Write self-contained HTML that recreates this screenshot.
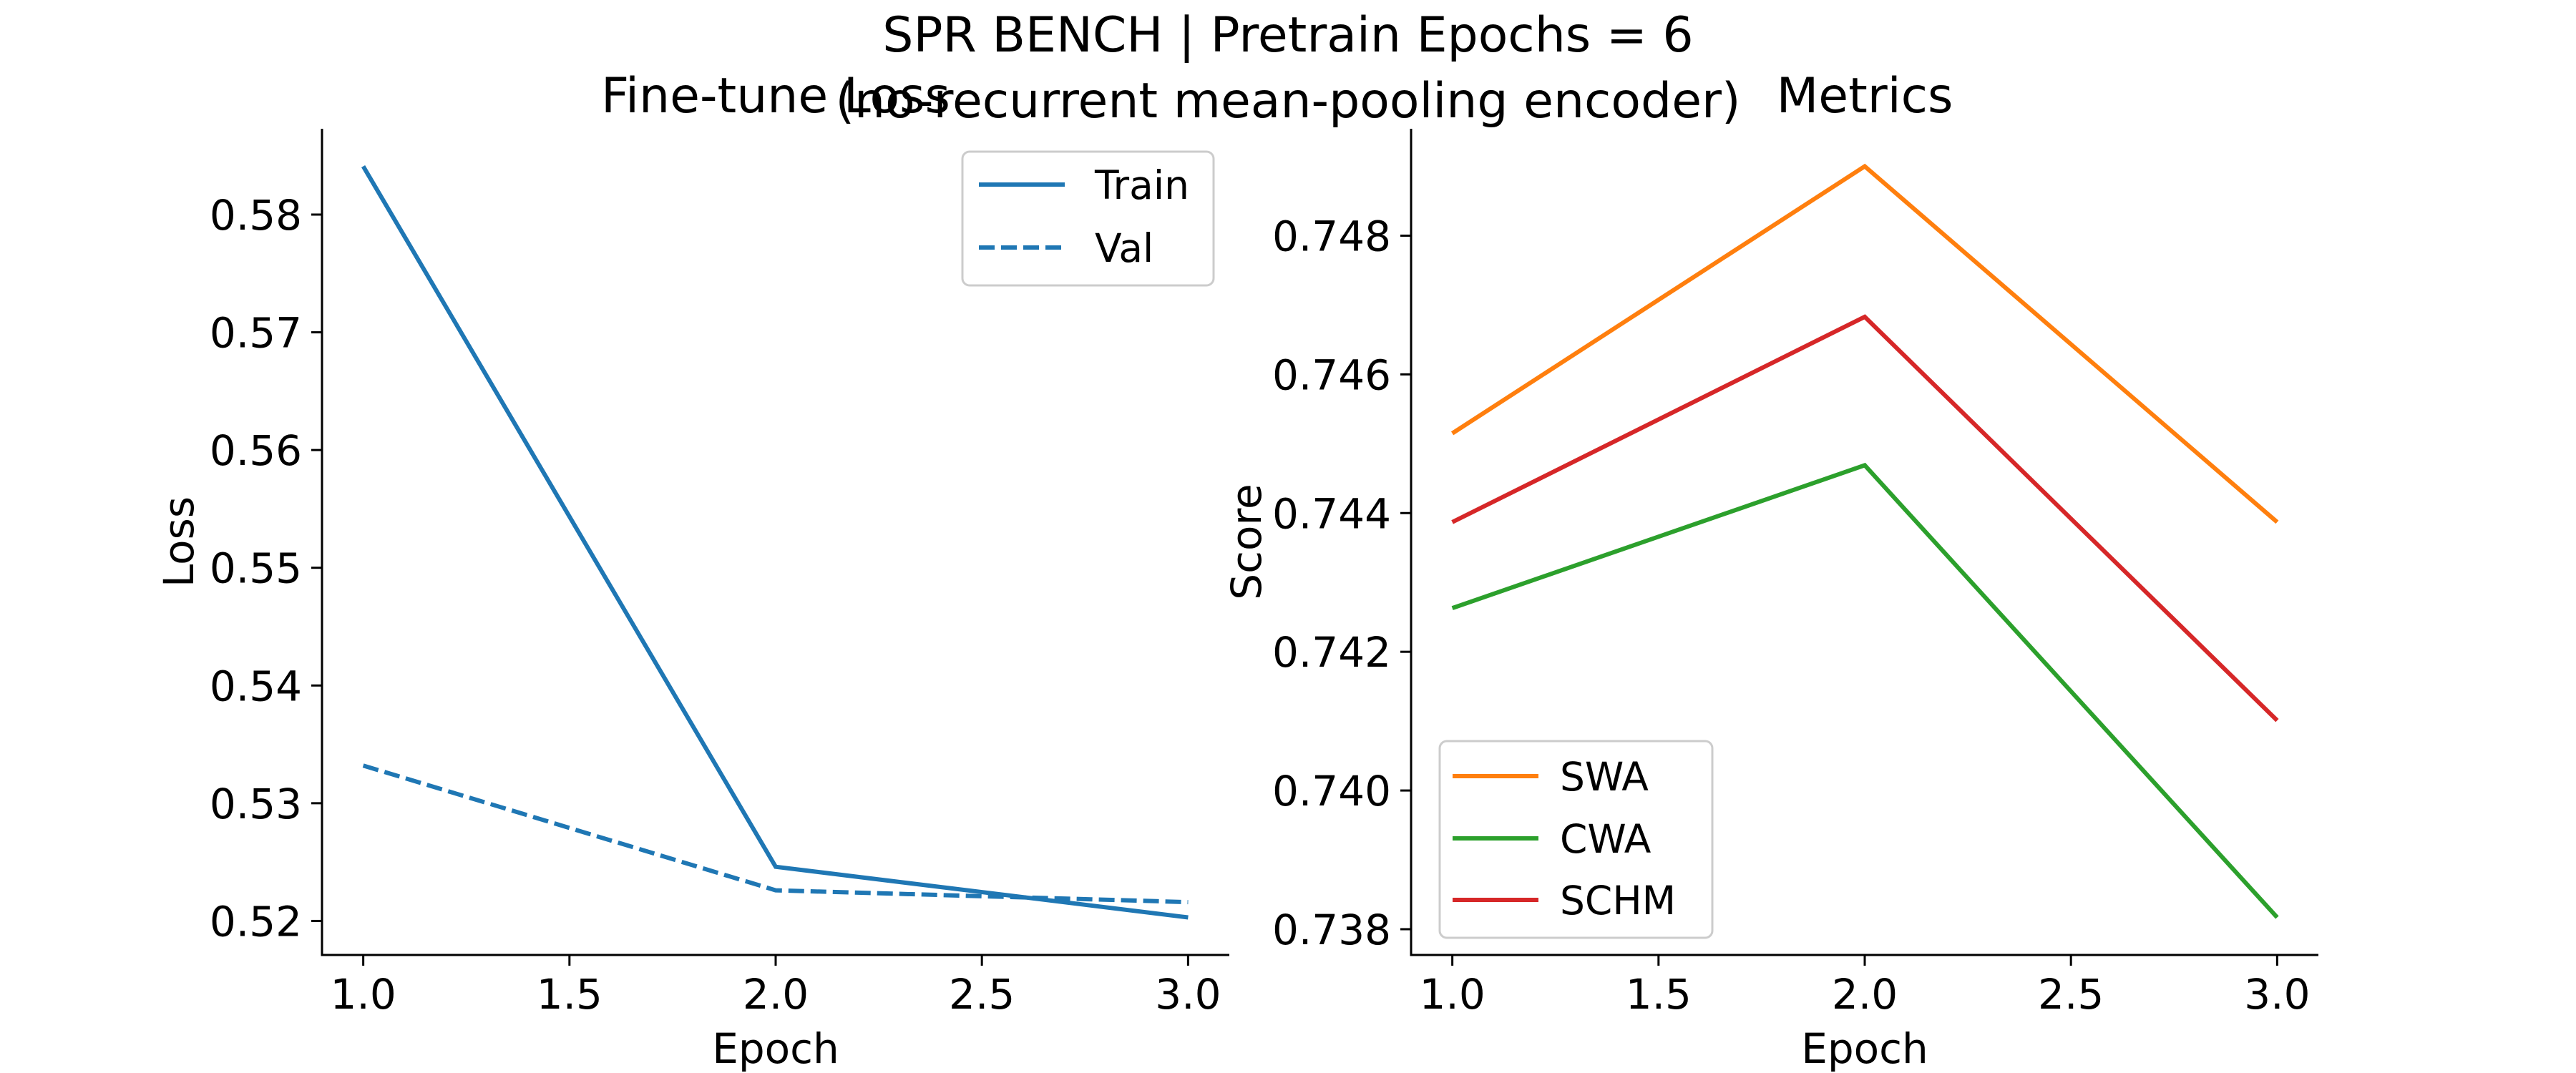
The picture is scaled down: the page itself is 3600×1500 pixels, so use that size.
<!DOCTYPE html>
<html><head><meta charset="utf-8"><style>
html,body{margin:0;padding:0;background:#fff}
svg{display:block}
text{font-family:"DejaVu Sans","Liberation Sans",sans-serif;fill:#000}
</style></head><body>
<svg id="fig" width="3600" height="1500" viewBox="0 0 3600 1500" xmlns="http://www.w3.org/2000/svg">
<rect width="3600" height="1500" fill="#fff"/>
<text x="1800" y="72" font-size="68" text-anchor="middle">SPR BENCH | Pretrain Epochs = 6</text>
<text x="1800" y="164" font-size="68" text-anchor="middle">(no-recurrent mean-pooling encoder)</text>
<g id="left"></g>
<g id="right"></g>
</svg>
<script>
const epochs = [1, 2, 3];
const trainLoss = [0.5841, 0.5246, 0.5203];
const valLoss = [0.5332, 0.5226, 0.5216];
const swa = [0.74515, 0.74900, 0.74387];
const cwa = [0.74263, 0.74469, 0.73817];
const schm = [0.74387, 0.74683, 0.74101];
const xTicks = [1.0, 1.5, 2.0, 2.5, 3.0];
const lossTicks = [0.52, 0.53, 0.54, 0.55, 0.56, 0.57, 0.58];
const scoreTicks = [0.738, 0.740, 0.742, 0.744, 0.746, 0.748];

const NS = "http://www.w3.org/2000/svg";
function mk(parent, tag, attrs, txt) {
  const e = document.createElementNS(NS, tag);
  for (const k in attrs) e.setAttribute(k, attrs[k]);
  if (txt !== undefined) e.textContent = txt;
  parent.appendChild(e);
  return e;
}
const TOP = 180, BOT = 1335;
function panel(g, L, R, series, yTicks, yDec, yLabel, title) {
  const allV = series.flatMap(s => s.v);
  const mn = Math.min(...allV), mx = Math.max(...allV), pad = (mx - mn) * 0.05;
  const y0 = mn - pad, y1 = mx + pad;
  const x0 = 0.9, x1 = 3.1;
  const X = v => L + (v - x0) / (x1 - x0) * (R - L);
  const Y = v => BOT - (v - y0) / (y1 - y0) * (BOT - TOP);
  const t = mk(g, 'text', {x: (L + R) / 2, y: 157, 'font-size': 68, 'text-anchor': 'middle'}, title);
  
  
  series.forEach(s => {
    const pts = epochs.map((e, i) => X(e).toFixed(1) + ',' + Y(s.v[i]).toFixed(1)).join(' ');
    const p = mk(g, 'polyline', {points: pts, fill: 'none', stroke: s.c, 'stroke-width': 6, 'stroke-dasharray': s.dash || 'none'});
    
    
  });
  xTicks.forEach(v => {
    mk(g, 'line', {x1: X(v), x2: X(v), y1: BOT, y2: BOT + 15, stroke: '#000', 'stroke-width': 3});
    const tl = mk(g, 'text', {x: X(v), y: 1410, 'font-size': 58, 'text-anchor': 'middle'}, v.toFixed(1));
    
    
  });
  yTicks.forEach(v => {
    mk(g, 'line', {x1: L - 15, x2: L, y1: Y(v), y2: Y(v), stroke: '#000', 'stroke-width': 3});
    const tl = mk(g, 'text', {x: L - 28, y: Y(v) + 21, 'font-size': 58, 'text-anchor': 'end'}, v.toFixed(yDec));
    
    
  });
  mk(g, 'line', {x1: L, x2: L, y1: TOP, y2: BOT + 1.5, stroke: '#000', 'stroke-width': 3});
  mk(g, 'line', {x1: L - 1.5, x2: R, y1: BOT, y2: BOT, stroke: '#000', 'stroke-width': 3});
  const xl = mk(g, 'text', {x: (L + R) / 2, y: 1486, 'font-size': 58, 'text-anchor': 'middle'}, 'Epoch');
  
  
  const yx = yLabel === 'Loss' ? 270 : 1762;
  const yl = mk(g, 'text', {x: yx, y: (TOP + BOT) / 2, 'font-size': 58, 'text-anchor': 'middle', transform: `rotate(-90 ${yx} ${(TOP + BOT) / 2})`}, yLabel);
  
  
}
function legend(g, bx, by, bw, bh, items, rowY, lx1, lx2, tx) {
  const r = mk(g, 'rect', {x: bx, y: by, width: bw, height: bh, rx: 10, fill: '#fff', 'fill-opacity': 0.8, stroke: '#ccc', 'stroke-width': 3});
  
  
  items.forEach((it, i) => {
    mk(g, 'line', {x1: lx1, x2: lx2, y1: rowY[i], y2: rowY[i], stroke: it.c, 'stroke-width': 6, 'stroke-dasharray': it.dash || 'none'});
    const t = mk(g, 'text', {x: tx, y: rowY[i] + 20, 'font-size': 55}, it.label);
    
    
  });
}
const lg = document.getElementById('left'), rg = document.getElementById('right');
const lossSeries = [
  {name: 'train', v: trainLoss, c: '#1f77b4', label: 'Train'},
  {name: 'val', v: valLoss, c: '#1f77b4', dash: '22 9', label: 'Val'}];
const metSeries = [
  {name: 'swa', v: swa, c: '#ff7f0e', label: 'SWA'},
  {name: 'cwa', v: cwa, c: '#2ca02c', label: 'CWA'},
  {name: 'schm', v: schm, c: '#d62728', label: 'SCHM'}];
panel(lg, 450, 1718, lossSeries, lossTicks, 2, 'Loss', 'Fine-tune Loss');
panel(rg, 1972, 3240, metSeries, scoreTicks, 3, 'Score', 'Metrics');
legend(lg, 1345, 212, 351, 187, lossSeries, [258, 346], 1368, 1488, 1530);
legend(rg, 2012, 1036, 381, 275, metSeries, [1085, 1172, 1258], 2030, 2150, 2180);
</script>
</body></html>
